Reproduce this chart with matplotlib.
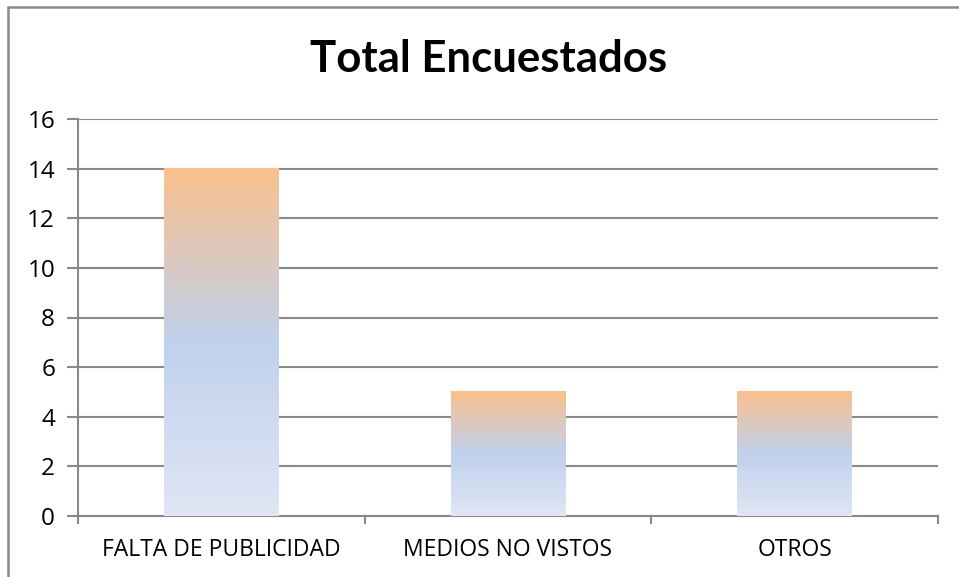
import numpy as np
import matplotlib.pyplot as plt
from matplotlib.colors import LinearSegmentedColormap
from matplotlib.patches import Rectangle

categorias = ['FALTA DE PUBLICIDAD', 'MEDIOS NO VISTOS', 'OTROS']
valores = [14, 5, 5]
yticks = [0, 2, 4, 6, 8, 10, 12, 14, 16]

plt.rcParams['font.family'] = ['Open Sans', 'DejaVu Sans']

fig = plt.figure(figsize=(9.59, 5.77), dpi=100)
ax = fig.add_axes([78/959, 61/577, 860/959, 397/577])

gris = '#898989'

# degradado Excel: abajo claro, medio azul, arriba naranja
cmap = LinearSegmentedColormap.from_list(
    'excel', [(0.0, '#E0E6F4'), (0.5, '#C0D1ED'), (1.0, '#FAC08E')])
grad = np.linspace(0, 1, 256).reshape(-1, 1)

x = np.arange(len(categorias))
barras = ax.bar(x, valores, width=0.4, color='none', zorder=3)
for b in barras:
    x0, y0 = b.get_x(), b.get_y()
    ax.imshow(grad, cmap=cmap, origin='lower', aspect='auto',
              extent=(x0, x0 + b.get_width(), y0, y0 + b.get_height()),
              zorder=3)

ax.set_xlim(-0.5, 2.5)
ax.set_ylim(0, 16)
ax.set_yticks(yticks)
ax.set_yticklabels([str(v) for v in yticks], fontsize=17.5)
ax.yaxis.grid(True, color=gris, linewidth=1.5, zorder=0)
ax.set_axisbelow(True)

ax.set_xticks([-0.5, 0.5, 1.5, 2.5])
ax.set_xticklabels([])
ax.set_xticks(x, minor=True)
ax.set_xticklabels(categorias, minor=True, fontsize=16.5)
ax.tick_params(axis='x', which='minor', length=0, pad=16)
ax.tick_params(axis='x', which='major', length=6, width=1.5, color=gris)
ax.tick_params(axis='y', length=8, width=1.5, color=gris, pad=8.5)

for s in ['top', 'right']:
    ax.spines[s].set_visible(False)
ax.spines['left'].set_color(gris)
ax.spines['left'].set_linewidth(1.5)
ax.spines['bottom'].set_color(gris)
ax.spines['bottom'].set_linewidth(1.5)

fig.text(489/959, 1 - 72/577, 'Total Encuestados', ha='center', va='baseline',
         fontsize=31.5, fontweight='bold', family=['Lato', 'DejaVu Sans'])

# borde del grafico
fig.patches.append(Rectangle((8/959, -0.1), 1.2, 1 - 7/577 + 0.1,
                             transform=fig.transFigure, fill=False,
                             edgecolor=gris, linewidth=1.8))

plt.savefig('out.png', dpi=100)
